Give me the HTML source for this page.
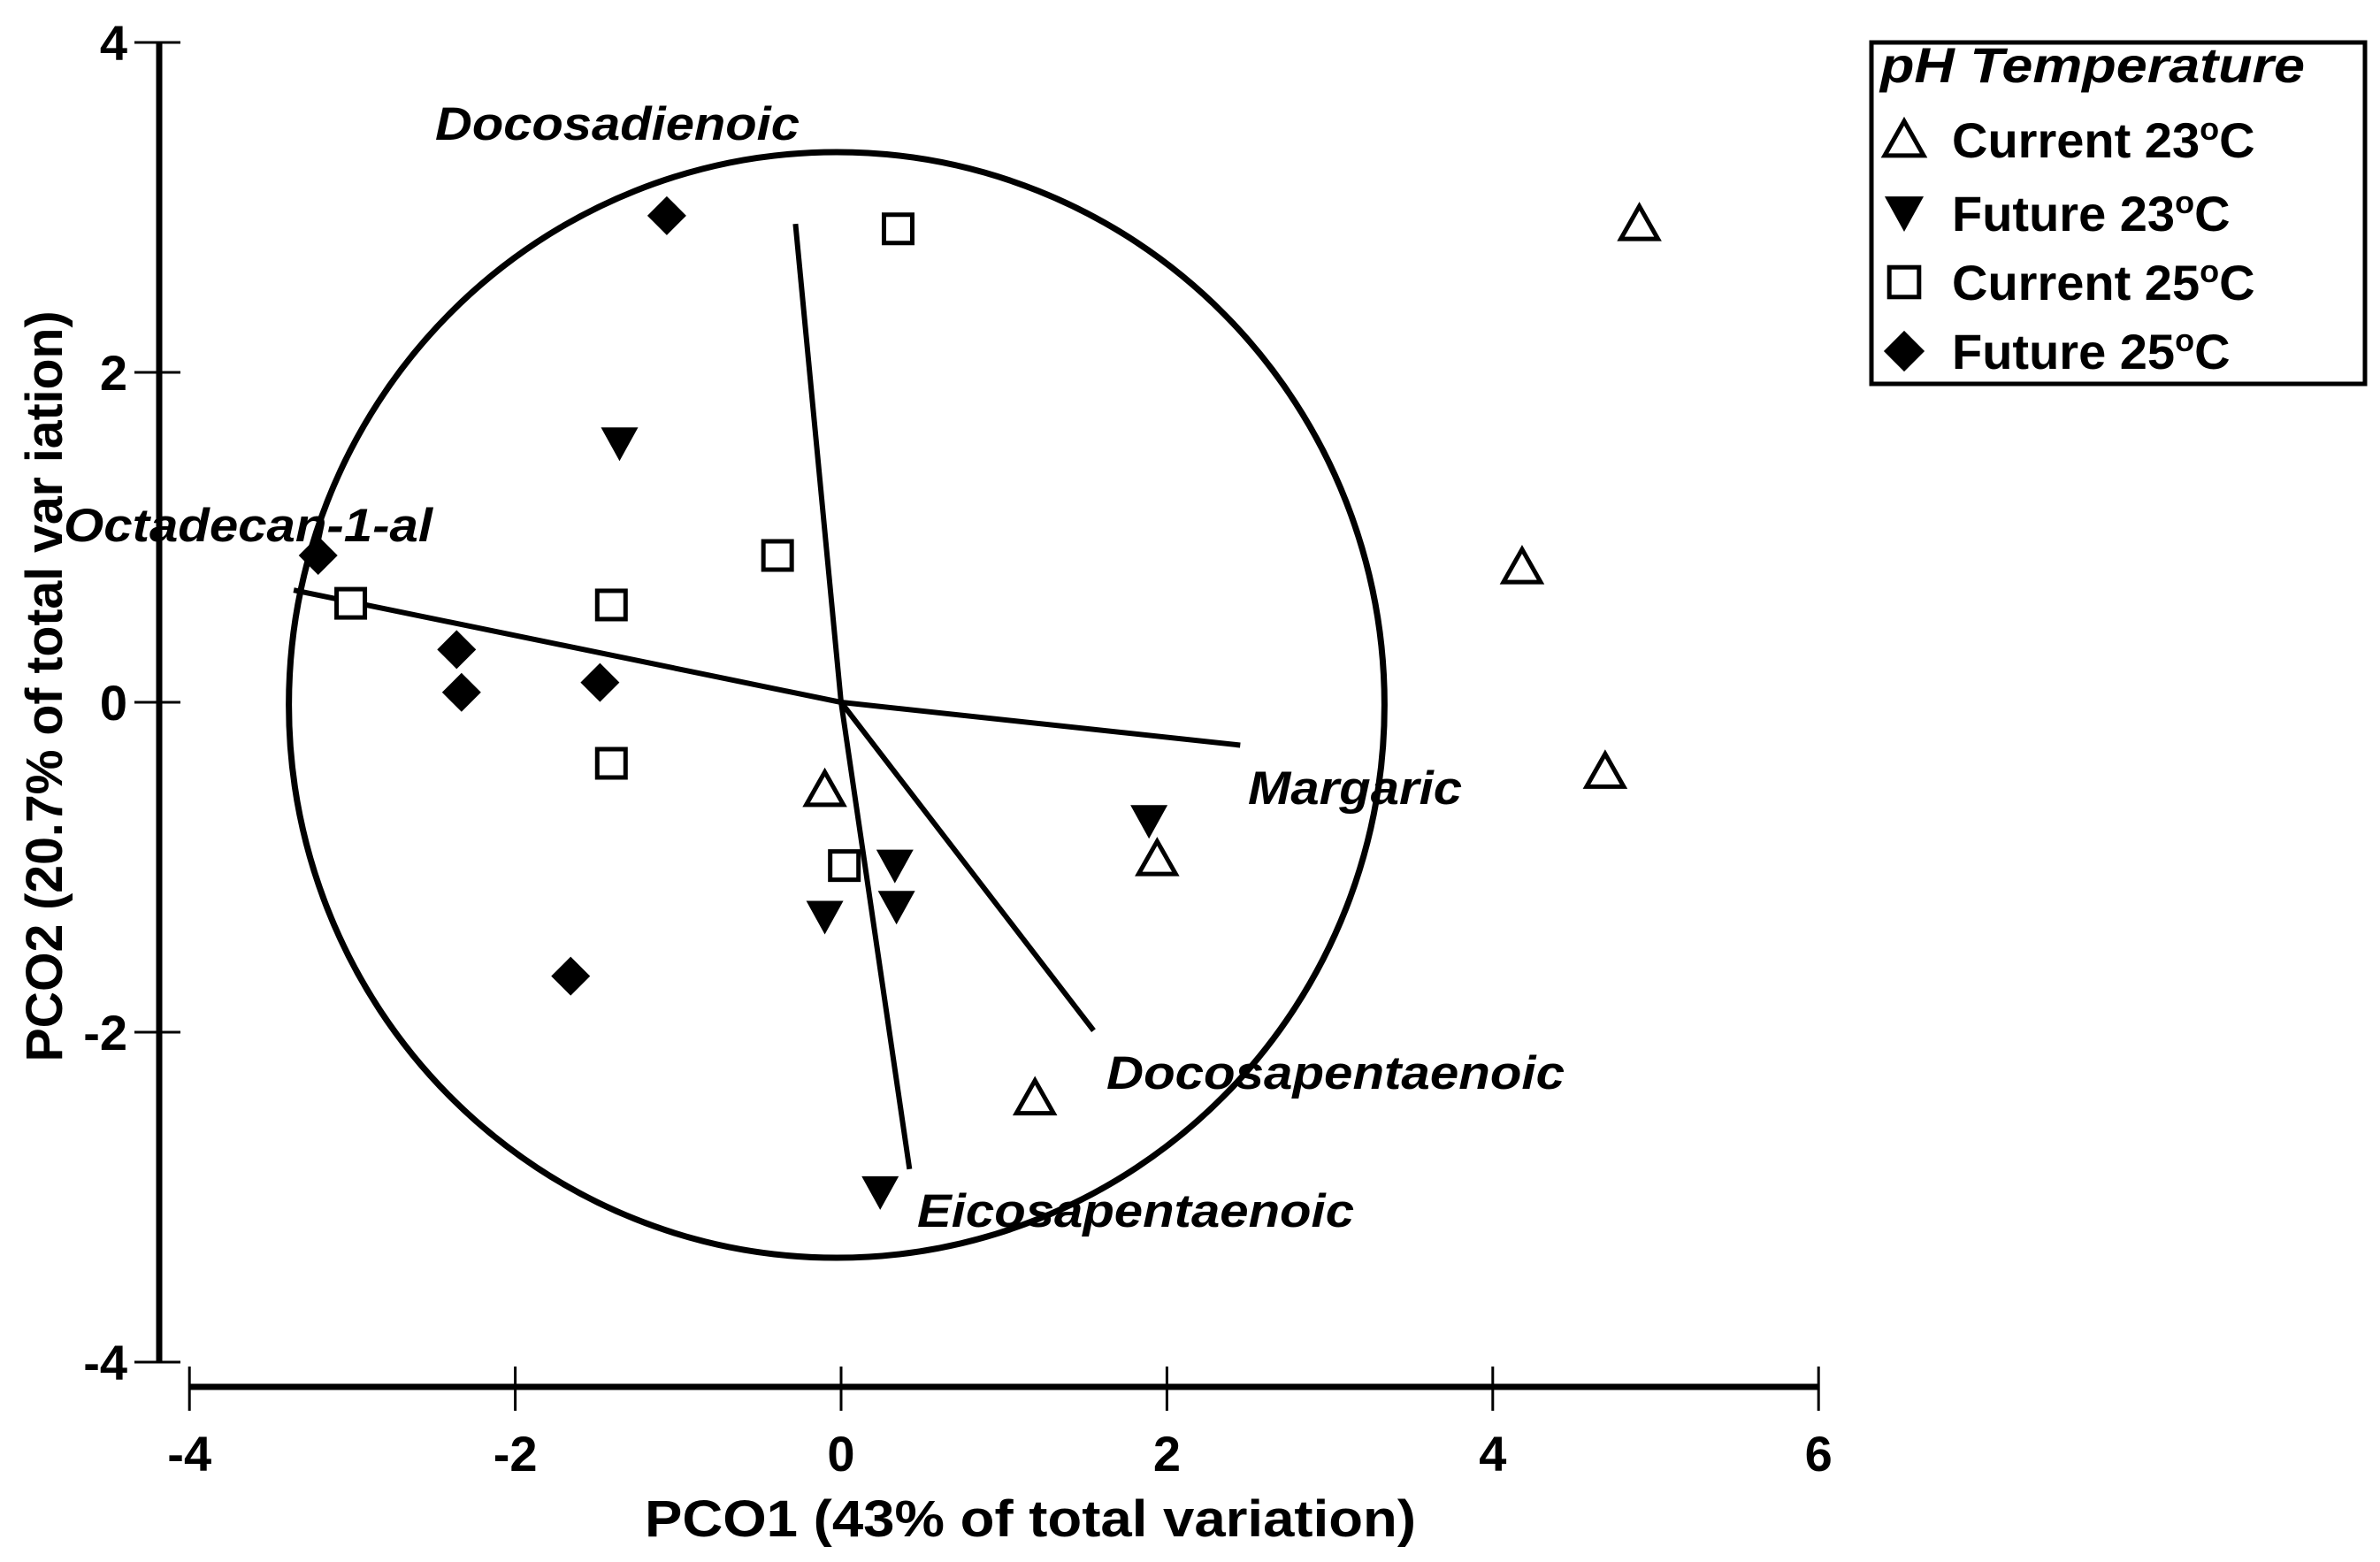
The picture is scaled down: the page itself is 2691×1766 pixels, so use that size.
<!DOCTYPE html>
<html><head><meta charset="utf-8"><style>
html,body{margin:0;padding:0;background:#fff;}
svg{display:block;font-family:"Liberation Sans",Arial,sans-serif;}
</style></head><body>
<svg id="chart" width="2691" height="1766" viewBox="0 0 2691 1766">
<g id="axes"></g>
<g id="vectors"></g>
<g id="points"></g>
<g id="legend"></g>
</svg>
<script>
const xTicks = [-4, -2, 0, 2, 4, 6];
const yTicks = [-4, -2, 0, 2, 4];
const cur23X = [4.9, 4.18, 4.69, 1.94, -0.1, 1.19];
const cur23Y = [2.9, 0.82, -0.42, -0.95, -0.53, -2.4];
const fut23X = [-1.36, 1.89, 0.33, 0.34, -0.1, 0.24];
const fut23Y = [1.57, -0.72, -0.99, -1.24, -1.30, -2.97];
const cur25X = [0.35, -0.39, -1.41, -3.01, -1.41, 0.02];
const cur25Y = [2.87, 0.89, 0.59, 0.6, -0.37, -0.99];
const fut25X = [-1.07, -3.21, -2.36, -2.33, -1.48, -1.66];
const fut25Y = [2.95, 0.89, 0.32, 0.06, 0.12, -1.66];
const vecNames = ["Docosadienoic", "Octadecan-1-al", "Margaric", "Docosapentaenoic", "Eicosapentaenoic"];
const vecX = [-0.28, -3.36, 2.45, 1.55, 0.42];
const vecY = [2.9, 0.68, -0.26, -1.99, -2.83];
const circleR = 3.33;

const NS = "http://www.w3.org/2000/svg";
const sx = v => 951 + 184.2 * v;
const sy = v => 794 - 186.5 * v;
function mk(tag, attrs, parent, txt) {
  const e = document.createElementNS(NS, tag);
  for (const k in attrs) e.setAttribute(k, attrs[k]);
  if (txt !== undefined) e.textContent = txt;
  parent.appendChild(e);
  return e;
}
const axes = document.getElementById('axes');
let e = mk('line', {x1: 180, y1: sy(4), x2: 180, y2: sy(-4), stroke: '#000', 'stroke-width': 7}, axes);


yTicks.forEach(t => {
  let l = mk('line', {x1: 152, x2: 204, y1: sy(t), y2: sy(t), stroke: '#000', 'stroke-width': 3}, axes);
  
  
  let tx = mk('text', {x: 144, y: sy(t) + 20, 'text-anchor': 'end', 'font-size': 56, 'font-weight': 'bold'}, axes, t);
  
  
});
e = mk('line', {x1: sx(-4), y1: 1568, x2: sx(6), y2: 1568, stroke: '#000', 'stroke-width': 7}, axes);


xTicks.forEach(t => {
  let l = mk('line', {x1: sx(t), x2: sx(t), y1: 1545, y2: 1595, stroke: '#000', 'stroke-width': 3}, axes);
  
  
  let tx = mk('text', {x: sx(t), y: 1663, 'text-anchor': 'middle', 'font-size': 56, 'font-weight': 'bold'}, axes, t);
  
  
});
e = mk('text', {x: 1165, y: 1737, 'text-anchor': 'middle', 'font-size': 58, 'font-weight': 'bold', textLength: 872, lengthAdjust: 'spacingAndGlyphs'}, axes, 'PCO1 (43% of total variation)');


e = mk('text', {x: 0, y: 0, 'text-anchor': 'middle', 'font-size': 58, 'font-weight': 'bold', textLength: 849, lengthAdjust: 'spacingAndGlyphs', transform: 'translate(70,776) rotate(-90)'}, axes, 'PCO2 (20.7% of total var iation)');



const vg = document.getElementById('vectors');
e = mk('ellipse', {cx: sx(0) - 5, cy: sy(0) + 3, rx: circleR * 184.2 + 6, ry: circleR * 186.5 + 4, fill: 'none', stroke: '#000', 'stroke-width': 7}, vg);


vecNames.forEach((n, i) => {
  let l = mk('line', {x1: sx(0), y1: sy(0), x2: sx(vecX[i]), y2: sy(vecY[i]), stroke: '#000', 'stroke-width': 6}, vg);
  
  
});
const labXpx = [492, 72, 1411, 1251, 1037];
const labYpx = [158, 612, 909, 1231, 1387];
const labW = [412, 417, 242, 518, 494];
vecNames.forEach((n, i) => {
  let t = mk('text', {x: labXpx[i], y: labYpx[i], 'font-size': 53, 'font-weight': 'bold', 'font-style': 'italic', textLength: labW[i], lengthAdjust: 'spacingAndGlyphs'}, vg, n);
  
  
});

const pg = document.getElementById('points');
function marker(type, cx, cy, parent, s) {
  s = s || 1;
  if (type === 'up') return mk('polygon', {points: `${cx},${cy-20*s} ${cx-21*s},${cy+17*s} ${cx+21*s},${cy+17*s}`, fill: '#fff', stroke: '#000', 'stroke-width': 5}, parent);
  if (type === 'down') return mk('polygon', {points: `${cx-21*s},${cy-18*s} ${cx+21*s},${cy-18*s} ${cx},${cy+20*s}`, fill: '#000'}, parent);
  if (type === 'sq') return mk('rect', {x: cx-16*s, y: cy-16*s, width: 32*s, height: 32*s, fill: '#fff', stroke: '#000', 'stroke-width': 5}, parent);
  return mk('polygon', {points: `${cx},${cy-22*s} ${cx+22*s},${cy} ${cx},${cy+22*s} ${cx-22*s},${cy}`, fill: '#000'}, parent);
}
const series = [['up', cur23X, cur23Y, 'current-23c'], ['down', fut23X, fut23Y, 'future-23c'], ['sq', cur25X, cur25Y, 'current-25c'], ['dia', fut25X, fut25Y, 'future-25c']];
series.forEach(s => {
  s[1].forEach((xv, i) => {
    const m = marker(s[0], sx(xv), sy(s[2][i]), pg);
    
    
  });
});

const lg = document.getElementById('legend');
e = mk('rect', {x: 2116, y: 48, width: 558, height: 386, fill: '#fff', stroke: '#000', 'stroke-width': 5}, lg);


e = mk('text', {x: 2126, y: 93, 'font-size': 56, 'font-weight': 'bold', 'font-style': 'italic', textLength: 480, lengthAdjust: 'spacingAndGlyphs'}, lg, 'pH Temperature');


const legLabels = [['Current 23', 'up'], ['Future 23', 'down'], ['Current 25', 'sq'], ['Future 25', 'dia']];
const legBase = [178, 261, 339, 417];
legLabels.forEach((l, i) => {
  const m = marker(l[1], 2153, legBase[i] - 20, lg, 1.05);
  
  
  const t = mk('text', {x: 2207, y: legBase[i], 'font-size': 56, 'font-weight': 'bold'}, lg);
  
  
  t.appendChild(document.createTextNode(l[0]));
  mk('tspan', {'font-size': 36, dy: -20}, t, 'o');
  mk('tspan', {dy: 20}, t, 'C');
});
</script>
</body></html>
